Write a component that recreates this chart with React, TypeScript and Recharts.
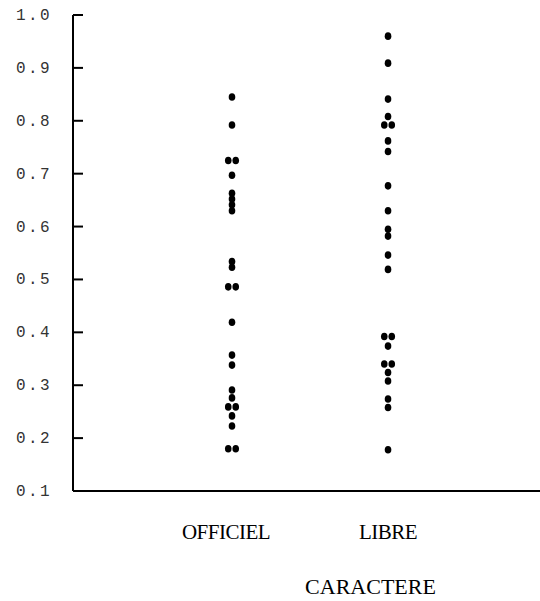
import React from 'react';
import { ScatterChart, Scatter, XAxis, YAxis, Label } from 'recharts';

const categories = ['OFFICIEL', 'LIBRE'];
const officielValues = [0.845, 0.792, 0.725, 0.725, 0.697, 0.663, 0.652, 0.641, 0.630, 0.534, 0.523, 0.486, 0.486, 0.419, 0.357, 0.338, 0.291, 0.276, 0.259, 0.259, 0.242, 0.223, 0.180, 0.180];
const libreValues = [0.960, 0.909, 0.841, 0.808, 0.792, 0.792, 0.762, 0.742, 0.677, 0.630, 0.595, 0.582, 0.546, 0.519, 0.392, 0.392, 0.374, 0.340, 0.340, 0.324, 0.308, 0.274, 0.258, 0.178];
const yTicks = [0.1, 0.2, 0.3, 0.4, 0.5, 0.6, 0.7, 0.8, 0.9, 1.0];
const xTitle = 'CARACTERE';

const JITTER = 0.024;

function buildPoints(values: number[], pos: number) {
  const counts: Record<string, number> = {};
  values.forEach((v) => { counts[v.toFixed(3)] = (counts[v.toFixed(3)] || 0) + 1; });
  const seen: Record<string, number> = {};
  return values.map((v) => {
    const k = v.toFixed(3);
    const n = counts[k];
    const i = seen[k] || 0;
    seen[k] = i + 1;
    const off = n > 1 ? (i - (n - 1) / 2) * 2 * JITTER : 0;
    return { x: pos + off, y: v };
  });
}

const points = [...buildPoints(officielValues, 1), ...buildPoints(libreValues, 2)];

const Dot = (props: any) => {
  const { cx, cy } = props;
  return <ellipse cx={cx} cy={cy} rx={3.3} ry={3.8} fill="#000" />;
};

const YTick = (props: any) => {
  const { x, y, payload } = props;
  return (
    <g>
      <line x1={x} y1={y} x2={x + 10} y2={y} stroke="#000" strokeWidth={2} />
      <text x={x - 21} y={y + 5} textAnchor="end" fontFamily="'Liberation Mono', monospace" fontSize={16} letterSpacing={2.4} fill="#333">
        {payload.value.toFixed(1)}
      </text>
    </g>
  );
};

const XTick = (props: any) => {
  const { x, payload } = props;
  const shift = payload.value === 1 ? -6 : 0;
  return (
    <text x={x + shift} y={539} textAnchor="middle" fontFamily="'Liberation Serif', serif" fontSize={21} letterSpacing={-0.5} fill="#000">
      {categories[payload.value - 1]}
    </text>
  );
};

export default function App() {
  return (
    <div style={{ position: 'absolute', left: 0, top: 0, width: 540, height: 601, background: '#fff' }}>
      <ScatterChart width={540} height={601} margin={{ top: 15, right: 0, left: 0, bottom: 0 }}>
        <XAxis
          type="number"
          dataKey="x"
          domain={[-0.019, 2.974]}
          ticks={[1, 2]}
          tick={<XTick />}
          tickLine={false}
          axisLine={{ stroke: '#000', strokeWidth: 2 }}
          height={110}
          allowDataOverflow
        >
          <Label
            value={xTitle}
            position="insideBottom"
            offset={7}
            dx={64}
            style={{ fontFamily: "'Liberation Serif', serif", fontSize: 22, fill: '#000' }}
          />
        </XAxis>
        <YAxis
          type="number"
          dataKey="y"
          domain={[0.1, 1.0]}
          ticks={yTicks}
          width={73}
          tick={<YTick />}
          tickLine={false}
          tickSize={0}
          tickMargin={0}
          axisLine={{ stroke: '#000', strokeWidth: 2 }}
          allowDataOverflow
        />
        <Scatter data={points} shape={<Dot />} isAnimationActive={false} />
      </ScatterChart>
    </div>
  );
}
